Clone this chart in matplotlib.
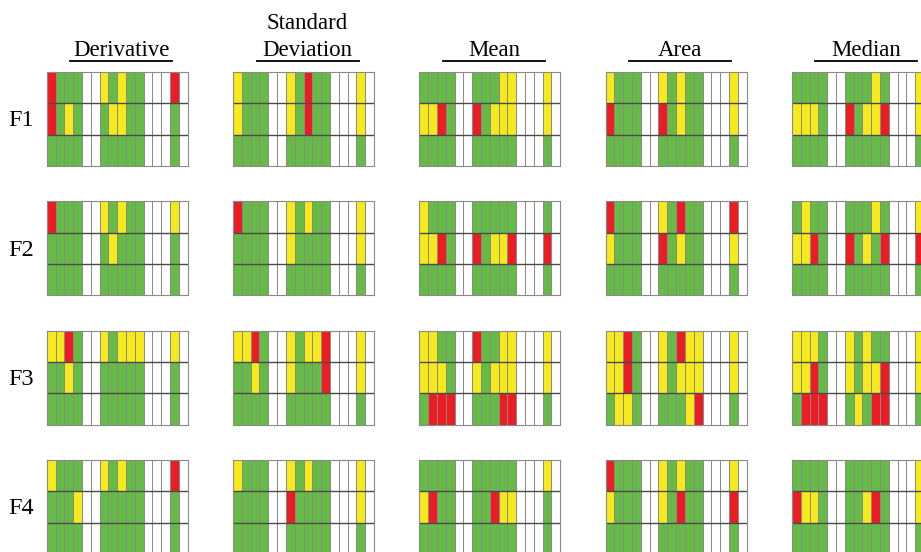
import matplotlib
matplotlib.use("Agg")
import matplotlib.pyplot as plt
from matplotlib.colors import ListedColormap
from matplotlib.lines import Line2D
import numpy as np

# cell codes: W = empty, G = green, Y = yellow, R = red
methods = ["Derivative", "Standard\nDeviation", "Mean", "Area", "Median"]
features = ["F1", "F2", "F3", "F4"]

derivative = [
    ["RGGGWWYGYGGWWWRW", "RGYGWWGYYGGWWWGW", "GGGGWWGGGGGWWWGW"],
    ["RGGGWWYGYGGWWWYW", "GGGGWWGYGGGWWWGW", "GGGGWWGGGGGWWWGW"],
    ["YYRGWWYGYYYWWWYW", "GGYGWWGGGGGWWWGW", "GGGGWWGGGGGWWWGW"],
    ["YGGGWWYGYGGWWWRW", "GGGYWWGGGGGWWWGW", "GGGGWWGGGGGWWWGW"],
]
std_dev = [
    ["YGGGWWYGRGGWWWYW", "YGGGWWYGRGGWWWYW", "GGGGWWGGGGGWWWGW"],
    ["RGGGWWYGYGGWWWYW", "GGGGWWYGGGGWWWYW", "GGGGWWGGGGGWWWGW"],
    ["YYRGWWYGYYRWWWYW", "GGYGWWYGGGRWWWYW", "GGGGWWGGGGGWWWGW"],
    ["YGGGWWYGYGGWWWYW", "GGGGWWRGGGGWWWYW", "GGGGWWGGGGGWWWGW"],
]
mean = [
    ["GGGGWWGGGYYWWWYW", "YYRGWWRGYYYWWWYW", "GGGGWWGGGGGWWWGW"],
    ["YGGGWWGGGGGWWWGW", "YYRGWWRGYYRWWWRW", "GGGGWWGGGGGWWWGW"],
    ["YYGGWWRGGYYWWWYW", "YYYGWWYGYYYWWWYW", "GRRRWWGGGRRWWWGW"],
    ["GGGGWWGGGGGWWWYW", "YRGGWWGGRYYWWWGW", "GGGGWWGGGGGWWWGW"],
]
area = [
    ["YGGGWWYGYGGWWWYW", "RGGGWWRGYGGWWWYW", "GGGGWWGGGGGWWWGW"],
    ["RGGGWWYGRGGWWWRW", "YGGGWWRGYGGWWWYW", "GGGGWWGGGGGWWWGW"],
    ["YYRGWWYGRYYWWWYW", "YYRGWWYGYYYWWWYW", "GYYGWWGGGYRWWWGW"],
    ["RGGGWWYGYGGWWWYW", "YGGGWWYGRGGWWWRW", "GGGGWWGGGGGWWWGW"],
]
median = [
    ["GGGGWWGGGYGWWWYW", "YYYGWWRGYYRWWWYW", "GGGGWWGGGGGWWWGW"],
    ["GYGGWWGGGYGWWWYW", "YYRGWWRGYGRWWWRW", "GGGGWWGGGGGWWWGW"],
    ["YYYGWWYGYGGWWWYW", "YYRGWWYGYYRWWWYW", "GRRRWWGYGRRWWWGW"],
    ["GGGGWWGGGGGWWWYW", "RYYGWWGGYRGWWWYW", "GGGGWWGGGGGWWWGW"],
]
tables = [derivative, std_dev, mean, area, median]

codes = {"W": 0, "G": 1, "Y": 2, "R": 3}
cmap = ListedColormap(["#ffffff", "#66bb46", "#f6e91c", "#ec1c24"])

W, H = 921, 552
fig = plt.figure(figsize=(W / 100, H / 100), dpi=100)
serif = "Liberation Serif"

x0, dx, gw = 46.7, 186.3, 141
y0, dy, gh = 72, 129.3, 94

for i, (name, table) in enumerate(zip(methods, tables)):
    for j, rows in enumerate(table):
        left = x0 + i * dx
        top = y0 + j * dy
        ax = fig.add_axes([left / W, 1 - (top + gh) / H, gw / W, gh / H])
        grid = np.array([[codes[c] for c in r] for r in rows])
        ax.pcolormesh(grid, cmap=cmap, vmin=-0.5, vmax=3.5,
                      edgecolors="#8a8a8a", linewidth=0.7)
        for yy in (1, 2):
            ax.axhline(yy, color="#4a4a4a", lw=1.0)
        ax.set_xlim(0, grid.shape[1])
        ax.set_ylim(grid.shape[0], 0)
        ax.set_xticks([])
        ax.set_yticks([])
        for s in ax.spines.values():
            s.set_color("#8a8a8a")
            s.set_linewidth(0.8)

    # column header with underline
    cx = (x0 + i * dx + gw / 2 + 4) / W
    fig.text(cx, 1 - 56 / H, name, ha="center", va="baseline",
             fontsize=16.5, family=serif, linespacing=1.35)
    fig.add_artist(Line2D([cx - 51 / W, cx + 51 / W], [1 - 61 / H] * 2,
                          color="black", lw=1.3, transform=fig.transFigure))

for j, f in enumerate(features):
    fig.text(21 / W, 1 - (y0 + j * dy + gh / 2 + 2) / H, f, ha="center",
             va="center", fontsize=17.5, family=serif)

fig.savefig("out.png", dpi=100)
